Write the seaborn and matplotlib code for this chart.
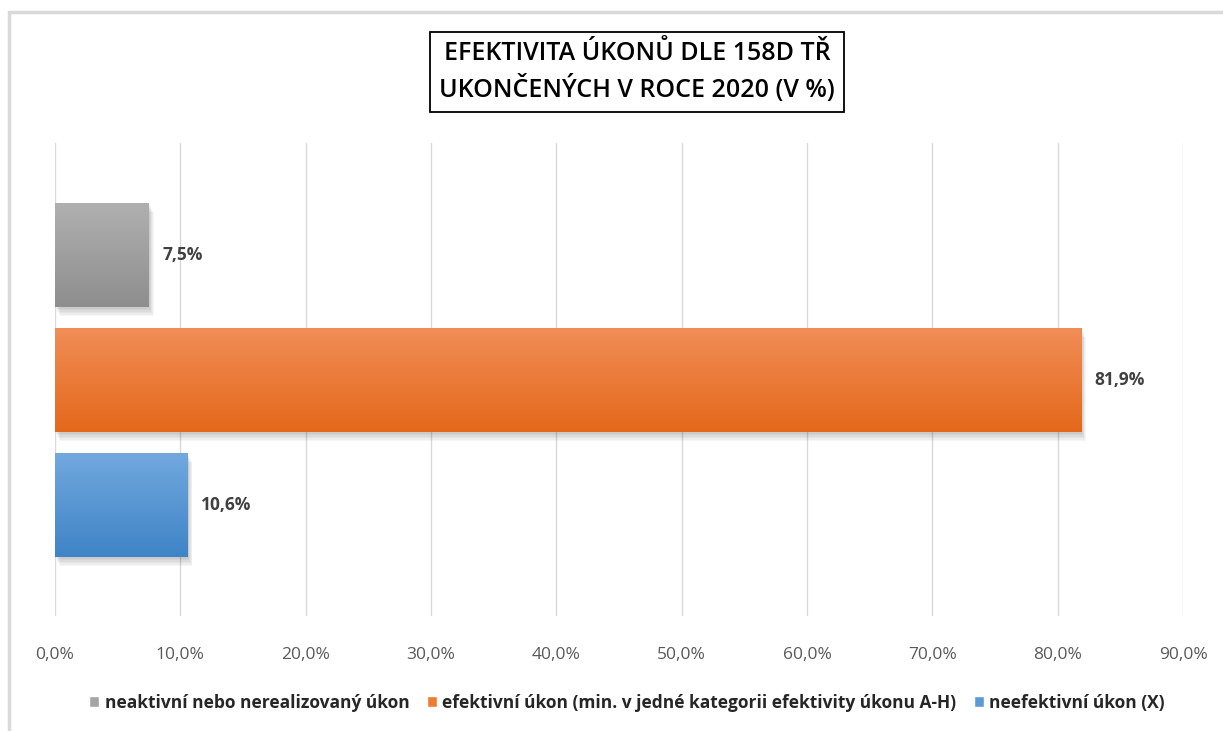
import numpy as np
import pandas as pd
import matplotlib
matplotlib.use("Agg")
import matplotlib.pyplot as plt
import seaborn as sns
from matplotlib.patches import Rectangle
from matplotlib.colors import LinearSegmentedColormap
from matplotlib.ticker import FuncFormatter

# DATA
series = ["neaktivní nebo nerealizovaný úkon",
          "efektivní úkon (min. v jedné kategorii efektivity úkonu A-H)",
          "neefektivní úkon (X)"]
values = [7.5, 81.9, 10.6]
x_ticks = [0, 10, 20, 30, 40, 50, 60, 70, 80, 90]
title = "EFEKTIVITA ÚKONŮ DLE 158D TŘ\nUKONČENÝCH V ROCE 2020 (V %)"

# colours (top, bottom of gradient)
grads = [("#b0b0b0", "#8e8e8e"), ("#f18d57", "#e4681a"), ("#72a8de", "#3e84c7")]
solid = ["#a5a5a5", "#ed7d31", "#5b9bd5"]

sns.set_theme(style="white")
plt.rcParams["font.family"] = ["Open Sans", "DejaVu Sans"]

df = pd.DataFrame({"serie": series, "hodnota": values})

fig = plt.figure(figsize=(12.23, 7.31), dpi=100)
ax = fig.add_axes([55 / 1223, 1 - 616 / 731, 1128 / 1223, 473 / 731])

sns.barplot(data=df, x="hodnota", y="serie", hue="serie", palette=solid,
            orient="h", width=0.832, legend=False, ax=ax, zorder=3,
            linewidth=0, edgecolor="none")

ax.set_xlim(0, 90)
ax.set_ylim(2.888, -0.896)

bars = list(ax.patches)
# gradient + soft shadow on each bar
for p, (c1, c2) in zip(bars, grads):
    x0, y0 = p.get_x(), p.get_y()
    w, h = p.get_width(), p.get_height()
    for k in range(1, 7):
        sh = Rectangle((x0 + k * 0.06, y0 + k * 0.012), w, h, facecolor="black",
                       alpha=0.035, edgecolor="none", zorder=2)
        ax.add_patch(sh)
    cmap = LinearSegmentedColormap.from_list("g", [c1, c2])
    grad = np.linspace(0, 1, 100).reshape(-1, 1)
    im = ax.imshow(grad, cmap=cmap, aspect="auto", extent=(x0, x0 + w, y0 + h, y0),
                   zorder=4, interpolation="bicubic")
    im.set_clip_path(p)
ax.set_xlim(0, 90)
ax.set_ylim(2.888, -0.896)

labels = [f"{v:.1f}%".replace(".", ",") for v in values]
for p, lab in zip(bars, labels):
    ax.text(p.get_x() + p.get_width() + 1.05, p.get_y() + p.get_height() / 2, lab,
            va="center", ha="left", fontsize=12.5, fontweight="bold", color="#404040", zorder=5)

ax.set_xticks(x_ticks)
ax.xaxis.set_major_formatter(FuncFormatter(lambda v, _: f"{v:.1f}%".replace(".", ",")))
ax.tick_params(axis="x", length=0, pad=22, labelsize=12.5, labelcolor="#595959")
ax.set_yticks([])
ax.set_xlabel("")
ax.set_ylabel("")
ax.grid(axis="x", color="#d9d9d9", linewidth=1, zorder=0)
for s in ax.spines.values():
    s.set_visible(False)

# title in a box
fig.text(637 / 1223, 1 - 72 / 731, title, ha="center", va="center", fontsize=18,
         color="black", linespacing=1.45, fontweight="semibold",
         bbox=dict(boxstyle="square,pad=0.35", facecolor="white", edgecolor="black", linewidth=1.3))

# legend
handles = [Rectangle((0, 0), 1, 1, facecolor=c) for c in solid]
fig.legend(handles, series, loc="center", bbox_to_anchor=(627 / 1223, 1 - 703 / 731),
           ncol=3, frameon=False, handlelength=0.6, handleheight=0.6, handletextpad=0.3,
           columnspacing=1.0, prop={"size": 12.5, "weight": "bold"}, labelcolor="#262626")

# chart frame (partially cropped)
fig.add_artist(Rectangle((9 / 1223, -0.1), 1.2, (731 - 12) / 731 + 0.1, transform=fig.transFigure,
                         facecolor="none", edgecolor="#d9d9d9", linewidth=2.5))

fig.savefig("out.png", dpi=100)
